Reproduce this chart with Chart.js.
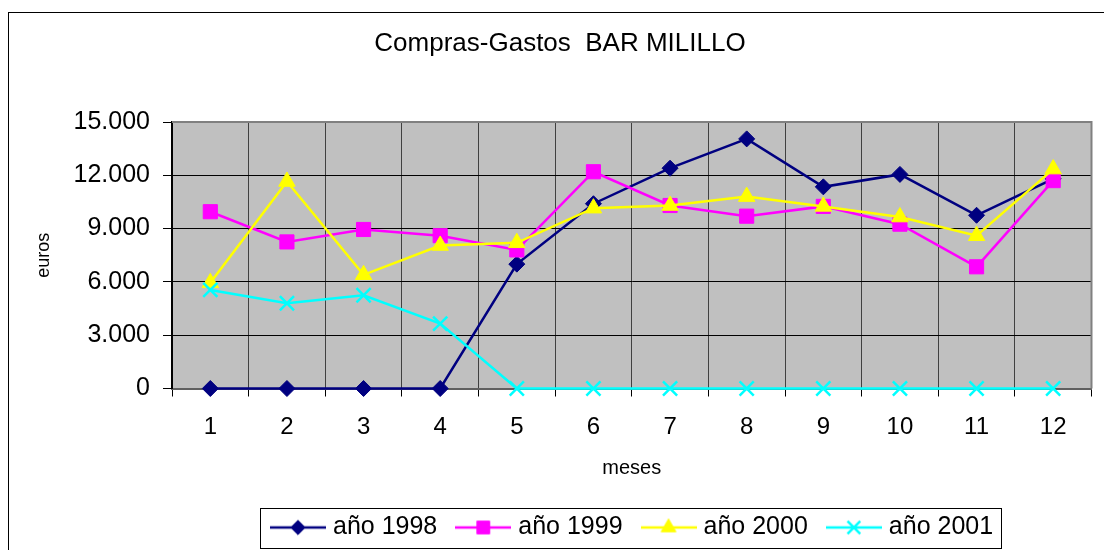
<!DOCTYPE html>
<html lang="es">
<head>
<meta charset="utf-8">
<title>Compras-Gastos BAR MILILLO</title>
<script src="https://cdn.jsdelivr.net/npm/chart.js@4.4.1/dist/chart.umd.min.js"></script>
<style>
  html, body { margin: 0; padding: 0; background: #fff; }
  #wrap { width: 1104px; height: 550px; }
</style>
</head>
<body>
<div id="wrap"><canvas id="chart" width="1104" height="550"></canvas></div>
<script>
// datos
const meses = ["1", "2", "3", "4", "5", "6", "7", "8", "9", "10", "11", "12"];
const ano1998 = [0, 0, 0, 0, 7000, 10400, 12400, 14050, 11350, 12050, 9750, 11800];
const ano1999 = [9950, 8250, 8950, 8600, 7800, 12200, 10300, 9700, 10250, 9250, 6850, 11700];
const ano2000 = [5950, 11650, 6400, 8050, 8200, 10150, 10300, 10800, 10250, 9650, 8600, 12350];
const ano2001 = [5550, 4800, 5250, 3650, 0, 0, 0, 0, 0, 0, 0, 0];
const yMin = 0;
const yMax = 15000;
const yStep = 3000;

Chart.defaults.font.family = '"Liberation Sans", Arial, sans-serif';
Chart.defaults.color = "#000";

// 15000 -> "15.000"
function fmt(v) {
  return String(v).replace(/\B(?=(\d{3})+(?!\d))/g, ".");
}

function serie(label, data, color, style, radius, order) {
  return {
    label: label,
    data: data,
    borderColor: color,
    backgroundColor: color,
    borderWidth: 2.5,
    pointStyle: style,
    pointRadius: radius,
    pointHoverRadius: radius,
    pointBackgroundColor: color,
    pointBorderColor: color,
    pointBorderWidth: style === "crossRot" ? 2.5 : 1,
    tension: 0,
    fill: false,
    clip: false,
    order: order,
  };
}

const datasets = [
  serie("año 1998", ano1998, "#000080", "rectRot", 8, 4),
  serie("año 1999", ano1999, "#ff00ff", "rect", 10, 3),
  serie("año 2000", ano2000, "#ffff00", "triangle", 9.5, 2),
  serie("año 2001", ano2001, "#00ffff", "crossRot", 10, 1),
];

// line + marker icons for the legend
function legendIcon(ds) {
  const c = document.createElement("canvas");
  c.width = 56;
  c.height = 24;
  const g = c.getContext("2d");
  g.strokeStyle = ds.borderColor;
  g.lineWidth = 2.5;
  g.beginPath();
  g.moveTo(0, 12);
  g.lineTo(56, 12);
  g.stroke();
  g.fillStyle = ds.borderColor;
  g.lineWidth = ds.pointBorderWidth;
  Chart.helpers.drawPoint(g, {
    pointStyle: ds.pointStyle,
    radius: ds.pointRadius * 0.9,
    rotation: 0,
    borderWidth: ds.pointBorderWidth,
  }, 28, 12);
  return c;
}
const icons = datasets.map(legendIcon);

const marco = {
  id: "marco",
  afterLayout(chart) {
    // title a bit right of centre, legend block starts near x=270
    chart.titleBlock.left += 9.5;
    chart.titleBlock.right += 9.5;
    const lg = chart.legend;
    const pad = lg.options.labels.padding;
    const start = (lg.left + pad + lg.right - lg.lineWidths[0]) / 2;
    const dx = 275.5 - start;
    lg.left += dx;
    lg.right += dx;
  },
  beforeDraw(chart) {
    const { ctx, chartArea: a } = chart;
    ctx.save();
    ctx.fillStyle = "#fff";
    ctx.fillRect(0, 0, chart.width, chart.height);
    ctx.strokeStyle = "#000";
    ctx.lineWidth = 1;
    ctx.strokeRect(8.5, 12.5, chart.width + 20, chart.height + 20);
    ctx.fillStyle = "#c0c0c0";
    ctx.fillRect(a.left, a.top, a.right - a.left, a.bottom - a.top);
    ctx.restore();
  },
  beforeDatasetsDraw(chart) {
    const { ctx, chartArea: a } = chart;
    ctx.save();
    ctx.strokeStyle = "#808080";
    ctx.lineWidth = 2;
    ctx.beginPath();
    ctx.moveTo(a.left, a.top);
    ctx.lineTo(a.right, a.top);
    ctx.lineTo(a.right, a.bottom);
    ctx.stroke();
    ctx.restore();
  },
  afterDraw(chart) {
    const { ctx } = chart;
    const lg = chart.legend;
    const pad = lg.options.labels.padding;
    const lw = lg.lineWidths[0];
    const start = (lg.left + pad + lg.right - lw) / 2;
    const x0 = Math.round(start - 15.5) + 0.5;
    const x1 = Math.round(start + lw - pad + 7.5) + 0.5;
    const y0 = Math.round(lg.top + 16.5) + 0.5;
    const y1 = Math.round(lg.bottom - 2) + 0.5;
    ctx.save();
    ctx.strokeStyle = "#000";
    ctx.lineWidth = 1;
    ctx.strokeRect(x0, y0, x1 - x0, y1 - y0);
    ctx.restore();
  },
};

new Chart(document.getElementById("chart").getContext("2d"), {
  type: "line",
  data: { labels: meses, datasets: datasets },
  plugins: [marco],
  options: {
    responsive: false,
    animation: false,
    events: [],
    layout: { padding: { top: 12, left: 8, right: 11, bottom: 0 } },
    plugins: {
      title: {
        display: true,
        text: "Compras-Gastos  BAR MILILLO",
        color: "#000",
        font: { size: 26, weight: "normal" },
        padding: { top: 16, bottom: 62.8 },
      },
      legend: {
        position: "bottom",
        labels: {
          usePointStyle: true,
          pointStyleWidth: 45,
          padding: 23.5,
          color: "#000",
          font: { size: 25 },
          generateLabels: (chart) =>
            chart.data.datasets.map((ds, i) => ({
              text: ds.label,
              pointStyle: icons[i],
              fillStyle: ds.borderColor,
              strokeStyle: ds.borderColor,
              lineWidth: 0,
              hidden: false,
              datasetIndex: i,
              fontColor: "#000",
            })),
        },
      },
      tooltip: { enabled: false },
    },
    scales: {
      x: {
        offset: true,
        ticks: { color: "#000", font: { size: 24 }, padding: 16, autoSkip: false, maxRotation: 0 },
        grid: { offset: true, color: "#404040", tickColor: "#000", tickLength: 8 },
        border: { color: "#606060", width: 2 },
        title: {
          display: true,
          text: "meses",
          color: "#000",
          font: { size: 20 },
          padding: { top: 0, bottom: 11.5 },
        },
        afterFit(s) {
          s.height = 103;
        },
      },
      y: {
        min: yMin,
        max: yMax,
        ticks: {
          stepSize: yStep,
          color: "#000",
          font: { size: 25 },
          padding: 13,
          callback: (v) => fmt(v),
        },
        grid: { color: "#000", tickColor: "#000", tickLength: 9 },
        border: { color: "#000", width: 2 },
        title: {
          display: true,
          text: "euros",
          color: "#000",
          font: { size: 18 },
          padding: { top: 25, bottom: 0 },
        },
        afterFit(s) {
          s.width = 164;
        },
      },
    },
  },
});
</script>
</body>
</html>
